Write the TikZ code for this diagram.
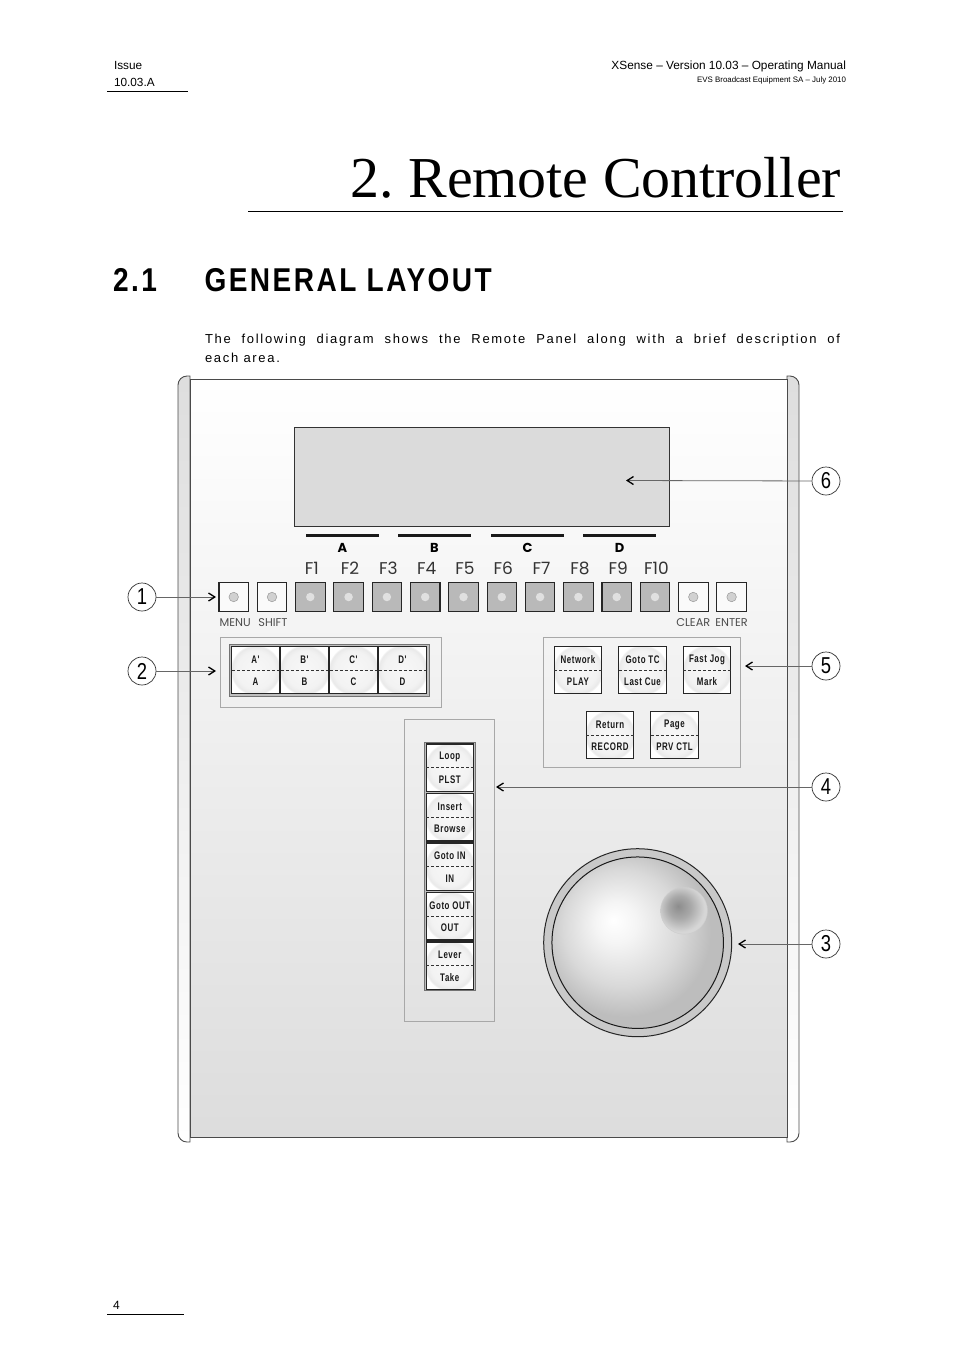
\documentclass[tikz,border=0pt]{standalone}
\usepackage{fontspec}
\setmainfont{Liberation Sans}
\newfontfamily\titlefont{Liberation Serif}
\newfontfamily\gothicfont{Poppins}
\newfontfamily\headfont[FakeStretch=0.85,LetterSpace=7.5]{Liberation Sans}
\newfontfamily\bodyfont[LetterSpace=13]{Liberation Sans}
\newfontfamily\keyfont[FakeStretch=0.72,LetterSpace=5]{Liberation Sans}
\newfontfamily\calloutfont[FakeStretch=0.8]{Liberation Sans}
\usetikzlibrary{arrows.meta,positioning}
\definecolor{framedark}{HTML}{4A4A4A}
\definecolor{groupline}{HTML}{A8A8A8}
\definecolor{fkeygrey}{HTML}{B9B9B9}
\pgfdeclareradialshading{keyshade}{\pgfpoint{0bp}{0bp}}{color(0bp)=(white!97!black); color(20bp)=(white!95!black); color(25.5bp)=(white!91!black); color(26bp)=(white); color(50bp)=(white)}
\pgfdeclareradialshading{ballshade}{\pgfpoint{-7.2bp}{6.6bp}}{color(0bp)=(white); color(6bp)=(white!96!black); color(17bp)=(white!85!black); color(25bp)=(white!74!black); color(50bp)=(white!74!black)}
\pgfdeclareradialshading{dimpleshade}{\pgfpoint{-6.5bp}{5bp}}{color(0bp)=(white!55!black); color(12bp)=(white!66!black); color(25bp)=(white!84!black); color(50bp)=(white!84!black)}
\tikzset{
	pagetext/.style={inner sep=0pt, outer sep=0pt},
	pagerule/.style={black, line width=0.7pt},
	panelface/.style={draw=framedark, line width=1pt, top color=white, bottom color=white!86.5!black},
	sidestrip/.style={draw=framedark, line width=0.9pt, top color=white!87!black, bottom color=white},
	groupbox/.style={rectangle, draw=groupline, line width=0.8pt, outer sep=0pt},
	framebox/.style={rectangle, draw=black!55, fill=white!75!black, line width=1pt, outer sep=0pt},
	keybox/.style={rectangle, draw=black!85, line width=1.1pt, minimum size=47.5pt, inner sep=0pt, outer sep=0pt, shading=keyshade},
	keydiv/.style={black!80, line width=0.7pt, densely dashed},
	keytext/.style={font=\keyfont\fontsize{11}{12}\selectfont\bfseries, inner sep=0pt, text=black!90},
	whitekey/.style={rectangle, draw=black!85, fill=white!98!black, line width=1.1pt, minimum size=29.5pt, inner sep=0pt, outer sep=0pt},
	fkey/.style={whitekey, fill=fkeygrey},
	whiteled/.style={circle, draw=black!40, fill=white!82!black, line width=0.5pt, minimum size=9.5pt, inner sep=0pt},
	fled/.style={circle, fill=white!88!black, minimum size=8.5pt, inner sep=0pt},
	flabel/.style={font=\gothicfont\fontsize{17}{18}\selectfont, inner sep=0pt, text=black!80, text height=12pt, text depth=0pt},
	keycap/.style={font=\gothicfont\fontsize{11.3}{12}\selectfont, inner sep=0pt, text=black!70},
	softbar/.style={rectangle, fill=black!90, minimum width=73pt, minimum height=3pt, inner sep=0pt},
	softletter/.style={font=\gothicfont\fontsize{13}{14}\selectfont\bfseries, inner sep=0pt},
	callout/.style={circle, draw=black!80, fill=white, line width=0.7pt, minimum size=28pt, inner sep=0pt, font=\calloutfont\fontsize{23}{24}\selectfont},
	calloutarr/.style={black!60, line width=0.8pt, arrows={-{Straight Barb[black,length=2.2mm,width=2.8mm,line width=1.3pt]}}}
}
% one panel key: name, upper text, lower text
\newcommand{\panelkey}[4][]{
	\node[keybox, #1] (#2) {};
	\draw[keydiv] (#2.west) -- (#2.east);
	\node[keytext, yshift=10.6pt] (#2-up) at (#2) {#3};
	\node[keytext, yshift=-11.8pt] (#2-low) at (#2) {#4};
}

\begin{document}
\begin{tikzpicture}[x=1pt, y=-1pt]
	\useasboundingbox (0,0) rectangle (954,1350);
	% page text
	\node[pagetext, anchor=base west, font=\fontsize{11.8}{14}\selectfont] (issue) at (114,69.5) {Issue};
	\node[pagetext, anchor=base west, font=\fontsize{11.8}{14}\selectfont] (version) at (114,86.5) {10.03.A};
	\draw[pagerule] (107,91.5) -- (188,91.5);
	\node[pagetext, anchor=base east, font=\fontsize{11.85}{14}\selectfont] (manual) at (846,69.5) {XSense – Version 10.03 – Operating Manual};
	\node[pagetext, anchor=base east, font=\fontsize{7.9}{10}\selectfont] (evs) at (846,82) {EVS Broadcast Equipment SA – July 2010};
	\node[pagetext, anchor=base east, font=\titlefont\fontsize{57.9}{60}\selectfont\frenchspacing] (title) at (841,197) {2. Remote Controller};
	\draw[pagerule] (248,211.5) -- (843,211.5);
	\node[pagetext, anchor=base west, font=\headfont\fontsize{33}{36}\selectfont\bfseries] (secnum) at (113,291.5) {2.1};
	\node[pagetext, anchor=base west, font=\headfont\fontsize{33}{36}\selectfont\bfseries] (sectitle) at (204.5,291.5) {GENERAL LAYOUT};
	\node[pagetext, anchor=north west, text width=635pt, align=justify, font=\bodyfont\fontsize{13}{19.5}\selectfont] (intro) at (205,334) {The following diagram shows the Remote Panel along with a brief description of\linebreak each area.};
	\node[pagetext, anchor=base west, font=\fontsize{12}{14}\selectfont] (pageno) at (113,1309) {4};
	\draw[pagerule] (107,1314.5) -- (184,1314.5);

	% housing
	\draw[sidestrip] (190,376) [rounded corners=9pt] -- (178,376) -- (178,1142) [sharp corners] -- (190,1142) -- cycle;
	\draw[sidestrip] (787,376) [rounded corners=9pt] -- (799,376) -- (799,1142) [sharp corners] -- (787,1142) -- cycle;
	\draw[panelface] (190,379) rectangle (787,1137);
	\node[rectangle, draw=black!80, fill=white!86!black, line width=1pt, minimum width=375pt, minimum height=99pt, outer sep=0pt] (display) at (481.5,476.5) {};

	% soft key bars
	\node[softbar] (bara) at (342.5,535) {};
	\node[softbar] (barb) at (434.5,535) {};
	\node[softbar] (barc) at (527.5,535) {};
	\node[softbar] (bard) at (619.5,535) {};
	\node[softletter, below=6.5pt of bara] (lettera) {A};
	\node[softletter, below=6.5pt of barb] (letterb) {B};
	\node[softletter, below=6.5pt of barc] (letterc) {C};
	\node[softletter, below=6.5pt of bard] (letterd) {D};

	% top row of keys
	\begin{scope}[node distance=8.8pt]
		\node[whitekey] (menu) at (233.7,597) {};
		\node[whitekey, right=of menu] (shift) {};
		\node[fkey, right=of shift] (f1) {};
		\node[fkey, right=of f1] (f2) {};
		\node[fkey, right=of f2] (f3) {};
		\node[fkey, right=of f3] (f4) {};
		\node[fkey, right=of f4] (f5) {};
		\node[fkey, right=of f5] (f6) {};
		\node[fkey, right=of f6] (f7) {};
		\node[fkey, right=of f7] (f8) {};
		\node[fkey, right=of f8] (f9) {};
		\node[fkey, right=of f9] (f10) {};
		\node[whitekey, right=of f10] (clear) {};
		\node[whitekey, right=of clear] (enter) {};
	\end{scope}
	\node[whiteled] (menuled) at (menu) {};
	\node[whiteled] (shiftled) at (shift) {};
	\node[fled] (f1led) at (f1) {};
	\node[fled] (f2led) at (f2) {};
	\node[fled] (f3led) at (f3) {};
	\node[fled] (f4led) at (f4) {};
	\node[fled] (f5led) at (f5) {};
	\node[fled] (f6led) at (f6) {};
	\node[fled] (f7led) at (f7) {};
	\node[fled] (f8led) at (f8) {};
	\node[fled] (f9led) at (f9) {};
	\node[fled] (f10led) at (f10) {};
	\node[whiteled] (clearled) at (clear) {};
	\node[whiteled] (enterled) at (enter) {};
	\node[flabel, above=8pt of f1, xshift=1.5pt] (f1text) {F1};
	\node[flabel, above=8pt of f2, xshift=1.5pt] (f2text) {F2};
	\node[flabel, above=8pt of f3, xshift=1.5pt] (f3text) {F3};
	\node[flabel, above=8pt of f4, xshift=1.5pt] (f4text) {F4};
	\node[flabel, above=8pt of f5, xshift=1.5pt] (f5text) {F5};
	\node[flabel, above=8pt of f6, xshift=1.5pt] (f6text) {F6};
	\node[flabel, above=8pt of f7, xshift=1.5pt] (f7text) {F7};
	\node[flabel, above=8pt of f8, xshift=1.5pt] (f8text) {F8};
	\node[flabel, above=8pt of f9, xshift=1.5pt] (f9text) {F9};
	\node[flabel, above=8pt of f10, xshift=1.5pt] (f10text) {F10};
	\node[keycap, below=7pt of menu, xshift=1.5pt] (menutext) {MENU};
	\node[keycap, below=7pt of shift, xshift=1pt] (shifttext) {SHIFT};
	\node[keycap, below=7pt of clear, xshift=0pt] (cleartext) {CLEAR};
	\node[keycap, below=7pt of enter, xshift=0pt] (entertext) {ENTER};

	% soft keys
	\node[groupbox, minimum width=221pt, minimum height=70pt] (softgroup) at (330.5,672) {};
	\node[framebox, minimum width=200pt, minimum height=52pt] (softframe) at (329,670) {};
	\panelkey[at={(255.5,670)}]{softa}{A'}{A}
	\panelkey[right=1.5pt of softa]{softb}{B'}{B}
	\panelkey[right=1.5pt of softb]{softc}{C'}{C}
	\panelkey[right=1.5pt of softc]{softd}{D'}{D}

	% transport keys
	\node[groupbox, minimum width=197pt, minimum height=130pt] (transgroup) at (641.5,702) {};
	\panelkey[at={(578,670)}]{network}{Network}{PLAY}
	\panelkey[right=17pt of network]{gototc}{Goto TC}{Last Cue}
	\panelkey[right=17pt of gototc]{fastjog}{Fast Jog}{Mark}
	\panelkey[at={(610,735)}]{record}{Return}{RECORD}
	\panelkey[right=17pt of record]{prvctl}{Page}{PRV CTL}

	% clip keys
	\node[groupbox, minimum width=89.5pt, minimum height=302pt] (clipgroup) at (449.2,870) {};
	\node[framebox, minimum width=51.5pt, minimum height=248pt] (clipframe) at (449.8,866) {};
	\panelkey[at={(449.8,767.7)}]{plst}{Loop}{PLST}
	\panelkey[below=2pt of plst]{browse}{Insert}{Browse}
	\panelkey[below=2pt of browse]{gotoin}{Goto IN}{IN}
	\panelkey[below=2pt of gotoin]{gotoout}{Goto OUT}{OUT}
	\panelkey[below=2pt of gotoout]{take}{Lever}{Take}

	% jog knob
	\node[circle, draw=black!85, fill=white!79!black, line width=1pt, minimum size=188pt, inner sep=0pt] (ring) at (637.7,942.7) {};
	\node[circle, draw=black!90, line width=1pt, minimum size=171.5pt, inner sep=0pt, shading=ballshade] (ball) at (ring) {};
	\node[circle, draw=white!80!black, line width=0.4pt, minimum size=47pt, inner sep=0pt, shading=dimpleshade] (dimple) at (684,910.7) {};

	% callouts
	\node[callout] (one) at (142,597) {1};
	\node[callout] (two) at (142,671) {2};
	\node[callout] (three) at (826,944) {3};
	\node[callout] (four) at (826,787) {4};
	\node[callout] (five) at (826,666) {5};
	\node[callout] (six) at (826,481) {6};
	\coordinate (onetip) at (216,597);
	\coordinate (twotip) at (216,671);
	\coordinate (threetip) at (738,944);
	\coordinate (fourtip) at (496,787);
	\coordinate (fivetip) at (745,666);
	\coordinate (sixtip) at (626,480.5);
	\draw[calloutarr] (one) -- (onetip);
	\draw[calloutarr] (two) -- (twotip);
	\draw[calloutarr] (three) -- (threetip);
	\draw[calloutarr] (four) -- (fourtip);
	\draw[calloutarr] (five) -- (fivetip);
	\draw[calloutarr] (six) -- (sixtip);
\end{tikzpicture}
\end{document}
